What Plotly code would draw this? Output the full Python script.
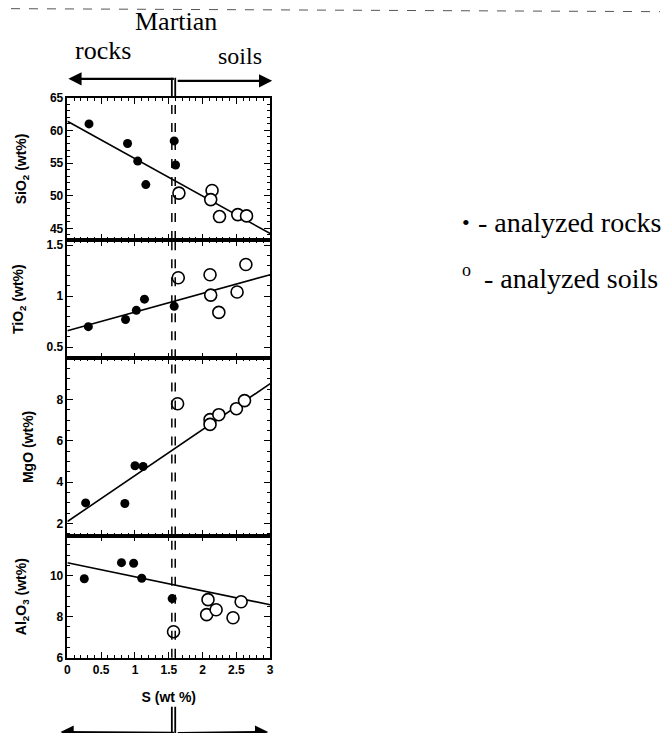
import plotly.graph_objects as go

# page body has an 8px margin; figure is sized to fit inside the 672x741 window
OFF = 8
W, H = 672 - 2 * OFF, 741 - 2 * OFF

# ---- data ----
sio2_rock_s = [0.32, 0.89, 1.04, 1.16, 1.60, 1.58]
sio2_rock_v = [61.0, 58.0, 55.3, 51.7, 54.7, 58.4]
sio2_soil_s = [1.65, 2.14, 2.12, 2.25, 2.52, 2.65]
sio2_soil_v = [50.4, 50.8, 49.4, 46.8, 47.1, 46.9]
sio2_fit_s = [0.0, 3.0]
sio2_fit_v = [61.4, 44.2]

tio2_rock_s = [0.31, 0.86, 1.02, 1.14, 1.58]
tio2_rock_v = [0.70, 0.77, 0.86, 0.97, 0.90]
tio2_soil_s = [1.64, 2.11, 2.12, 2.24, 2.51, 2.64]
tio2_soil_v = [1.18, 1.21, 1.01, 0.84, 1.04, 1.31]
tio2_fit_s = [0.0, 3.0]
tio2_fit_v = [0.66, 1.21]

mgo_rock_s = [0.27, 0.85, 1.00, 1.12]
mgo_rock_v = [3.0, 2.97, 4.8, 4.76]
mgo_soil_s = [1.63, 2.11, 2.11, 2.24, 2.50, 2.62]
mgo_soil_v = [7.8, 7.03, 6.8, 7.27, 7.56, 7.95]
mgo_fit_s = [0.0, 3.0]
mgo_fit_v = [2.1, 8.77]

al2o3_rock_s = [0.25, 0.80, 0.98, 1.10, 1.55]
al2o3_rock_v = [9.85, 10.63, 10.6, 9.87, 8.88]
al2o3_soil_s = [1.57, 2.08, 2.06, 2.20, 2.45, 2.57]
al2o3_soil_v = [7.27, 8.83, 8.1, 8.34, 7.95, 8.73]
al2o3_fit_s = [0.0, 3.0]
al2o3_fit_v = [10.63, 8.58]

boundary_s = 1.57
x_ticks = [0, 0.5, 1, 1.5, 2, 2.5, 3]
x_tick_text = ["0", "0.5", "1", "1.5", "2", "2.5", "3"]

panels = [
    ("SiO<sub>2</sub> (wt%)", sio2_rock_s, sio2_rock_v, sio2_soil_s, sio2_soil_v, sio2_fit_s, sio2_fit_v,
     [43.2, 65], [45, 50, 55, 60, 65], 1),
    ("TiO<sub>2</sub> (wt%)", tio2_rock_s, tio2_rock_v, tio2_soil_s, tio2_soil_v, tio2_fit_s, tio2_fit_v,
     [0.39, 1.55], [0.5, 1, 1.5], 0.1),
    ("MgO (wt%)", mgo_rock_s, mgo_rock_v, mgo_soil_s, mgo_soil_v, mgo_fit_s, mgo_fit_v,
     [1.42, 10.0], [2, 4, 6, 8], 0.5),
    ("Al<sub>2</sub>O<sub>3</sub> (wt%)", al2o3_rock_s, al2o3_rock_v, al2o3_soil_s, al2o3_soil_v, al2o3_fit_s, al2o3_fit_v,
     [6.0, 11.95], [6, 8, 10], 0.5),
]

def px(p):
    return (p - OFF) / W

def py(p):
    # empirical correction of the vertical placement seen in the rendered page
    q = (p - 7.5) / 0.979
    return 1 - (q - OFF) / H

# panel pixel boundaries in the window (top, bottom)
bounds = [(98, 240), (240, 358), (358, 535), (535, 657)]
x_dom = [px(65), px(270)]

fig = go.Figure()
tickfont = dict(family="Liberation Sans", size=12, color="black", weight="bold")
titlefont = dict(family="Liberation Sans", size=14, color="black", weight="bold")

for i, (label, rs, rv, ss, sv, fs, fv, rng, ticks, minor) in enumerate(panels):
    n = i + 1
    xa = "x" if n == 1 else f"x{n}"
    ya = "y" if n == 1 else f"y{n}"
    fig.add_trace(go.Scatter(x=fs, y=fv, mode="lines", line=dict(color="black", width=1.6),
                             xaxis=xa, yaxis=ya, showlegend=False, hoverinfo="skip"))
    fig.add_trace(go.Scatter(x=rs, y=rv, mode="markers",
                             marker=dict(symbol="circle", size=9, color="black"),
                             xaxis=xa, yaxis=ya, showlegend=False))
    fig.add_trace(go.Scatter(x=ss, y=sv, mode="markers",
                             marker=dict(symbol="circle", size=12, color="white",
                                         line=dict(color="black", width=1.6)),
                             xaxis=xa, yaxis=ya, showlegend=False))
    top, bot = bounds[i]
    xkey = "xaxis" if n == 1 else f"xaxis{n}"
    ykey = "yaxis" if n == 1 else f"yaxis{n}"
    last = (n == 4)
    fig.layout[xkey] = dict(
        domain=x_dom, anchor=ya, range=[0, 3], showgrid=False, zeroline=False,
        showline=True, linecolor="black", linewidth=1.5, mirror="allticks",
        ticks="inside", ticklen=6, tickwidth=1.3, tickcolor="black",
        tickvals=x_ticks, ticktext=x_tick_text, showticklabels=last, tickfont=tickfont,
        minor=dict(ticks="inside", ticklen=3, dtick=0.1, tickcolor="black", tickwidth=1),
        title=dict(text="S (wt %)" if last else "", font=titlefont, standoff=16),
    )
    fig.layout[ykey] = dict(
        domain=[py(bot), py(top)], anchor=xa, range=rng, showgrid=False, zeroline=False,
        showline=True, linecolor="black", linewidth=1.5, mirror="allticks",
        ticks="inside", ticklen=6, tickwidth=1.3, tickcolor="black",
        tickvals=ticks, tickfont=tickfont,
        minor=dict(ticks="inside", ticklen=3, dtick=minor, tickcolor="black", tickwidth=1),
        title=dict(text=label, font=titlefont, standoff=20),
    )

shapes = []
# double dashed boundary line through all panels
for dx in (-0.025, 0.025):
    for n in range(1, 5):
        xr = "x" if n == 1 else f"x{n}"
        yr = "y domain" if n == 1 else f"y{n} domain"
        shapes.append(dict(type="line", xref=xr, yref=yr, x0=boundary_s + dx, x1=boundary_s + dx,
                           y0=0, y1=1, line=dict(color="black", width=1.5, dash="dash")))
    # solid stubs above and below
    shapes.append(dict(type="line", xref="x", yref="paper", x0=boundary_s + dx, x1=boundary_s + dx,
                       y0=py(98), y1=py(78), line=dict(color="black", width=1.8)))
    shapes.append(dict(type="line", xref="x4", yref="paper", x0=boundary_s + dx, x1=boundary_s + dx,
                       y0=py(706), y1=py(733), line=dict(color="black", width=1.8)))
# scan edge line at the top
shapes.append(dict(type="line", xref="paper", yref="paper", x0=0, x1=1, y0=py(9), y1=py(12),
                   line=dict(color="#555555", width=1, dash="dash")))
fig.update_layout(shapes=shapes)

ann = []
arrow = dict(showarrow=True, arrowhead=2, arrowsize=1.2, arrowwidth=2.2, arrowcolor="black",
             axref="pixel", ayref="pixel", text="", xref="paper", yref="paper")
# top arrows
ann.append(dict(arrow, x=px(66), y=py(79), ax=173 - 66, ay=0))
ann.append(dict(arrow, x=px(272), y=py(81), ax=176 - 272, ay=0))
# bottom arrows
ann.append(dict(arrow, x=px(58), y=py(732), ax=173 - 58, ay=0))
ann.append(dict(arrow, x=px(268), y=py(735), ax=176 - 268, ay=0))

serif = dict(family="Liberation Serif", color="black")
def label(text, x, y, size, xanchor="center"):
    return dict(text=text, x=px(x), y=py(y), xref="paper", yref="paper", showarrow=False,
                xanchor=xanchor, yanchor="middle", font=dict(serif, size=size))

ann.append(label("Martian", 175, 22, 26))
ann.append(label("rocks", 101, 51, 26))
ann.append(label("soils", 239, 56, 24))
ann.append(label("•", 462, 222, 22, "left"))
ann.append(label("- analyzed rocks", 478, 222, 28, "left"))
ann.append(label("o", 462, 270, 18, "left"))
ann.append(label("- analyzed soils", 484, 278, 28, "left"))
fig.update_layout(annotations=ann)

fig.update_layout(width=W, height=H, margin=dict(l=0, r=0, t=0, b=0),
                  paper_bgcolor="white", plot_bgcolor="white", showlegend=False)

fig.write_html("out.html")
